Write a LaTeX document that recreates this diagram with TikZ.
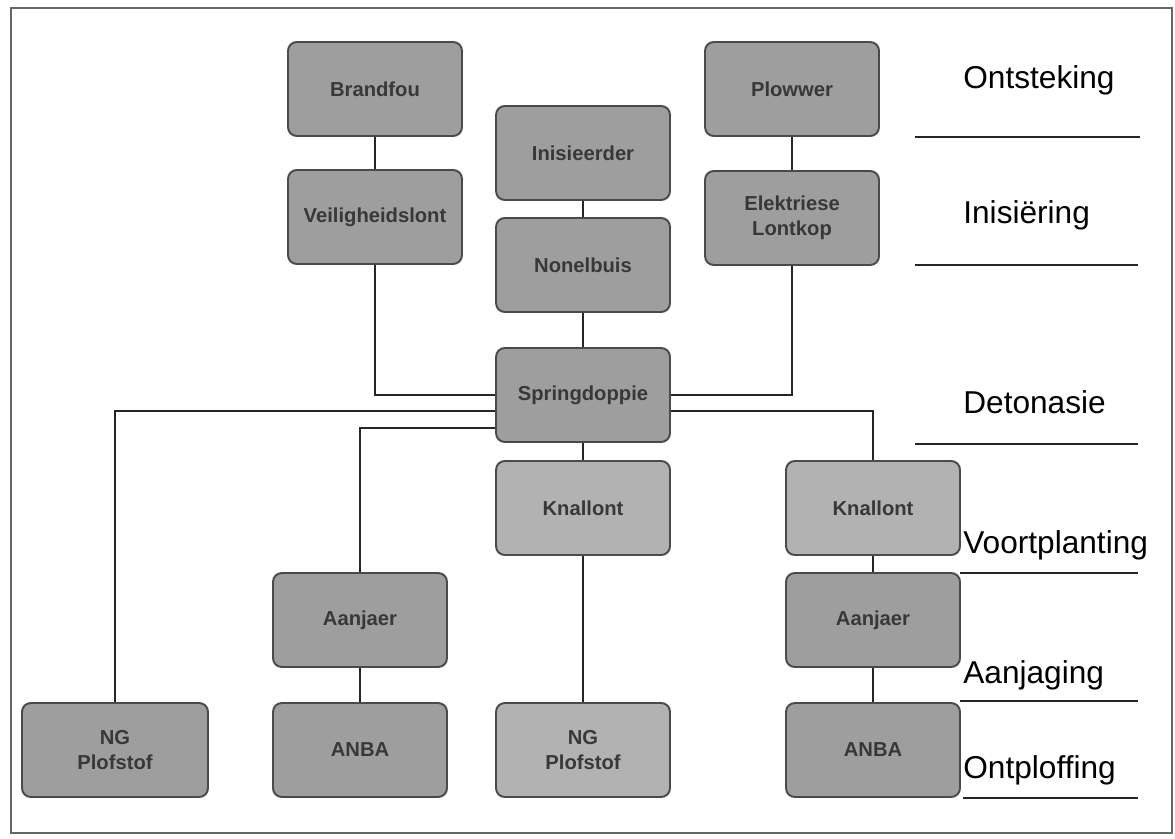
\documentclass[tikz,border=0pt]{standalone}
\usepackage{fontspec}
\setmainfont{Liberation Sans}
\definecolor{boxgray}{HTML}{9E9E9E}
\definecolor{boxlight}{HTML}{B2B2B2}
\definecolor{boxedge}{HTML}{4A4A4A}
\definecolor{boxtext}{HTML}{383838}
\begin{document}
\begin{tikzpicture}[x=0.02cm,y=-0.02cm,
  stage/.style={draw=boxedge,line width=1.1pt,fill=boxgray,rounded corners=5pt,minimum width=3.48cm,minimum height=1.88cm,align=center,text=boxtext,font=\fontsize{11.5}{14}\selectfont\bfseries},
  light/.style={stage,fill=boxlight},
  phase/.style={anchor=west,inner sep=0pt,font=\fontsize{18}{20}\selectfont},
  link/.style={line width=0.9pt,black!85}]
\useasboundingbox (0,0) rectangle (1175,838);
\draw[line width=1.3pt,black!60] (11,8) rectangle (1172,833);
\node[stage] (brand) at (375,89) {Brandfou};
\node[stage] (veilig) at (375,217) {Veiligheidslont};
\node[stage] (inis) at (583,153) {Inisieerder};
\node[stage] (nonel) at (583,265) {Nonelbuis};
\node[stage] (plow) at (792,89) {Plowwer};
\node[stage] (elek) at (792,218) {Elektriese\\Lontkop};
\node[stage] (spring) at (583,395) {Springdoppie};
\node[light] (knalA) at (583,508) {Knallont};
\node[light] (knalB) at (873,508) {Knallont};
\node[stage] (aanA) at (360,620) {Aanjaer};
\node[stage] (aanB) at (873,620) {Aanjaer};
\node[stage,minimum width=3.72cm] (ngA) at (115,750) {NG\\Plofstof};
\node[stage] (anbaA) at (360,750) {ANBA};
\node[light] (ngB) at (583,750) {NG\\Plofstof};
\node[stage] (anbaB) at (873,750) {ANBA};
\draw[link] (brand) -- (veilig);
\draw[link] (veilig.south) |- (spring.west);
\draw[link] (inis) -- (nonel);
\draw[link] (nonel) -- (spring);
\draw[link] (plow) -- (elek);
\draw[link] (elek.south) |- (spring.east);
\draw[link] ([yshift=-0.32cm]spring.west) -| (ngA.north);
\draw[link] ([yshift=-0.66cm]spring.west) -| (aanA.north);
\draw[link] ([yshift=-0.32cm]spring.east) -| (knalB.north);
\draw[link] (spring) -- (knalA);
\draw[link] (knalA) -- (ngB);
\draw[link] (aanA) -- (anbaA);
\draw[link] (knalB) -- (aanB);
\draw[link] (aanB) -- (anbaB);
\node[phase] (ont) at (963,80) {Ontsteking};
\node[phase] (inisi) at (963,215) {Inisiëring};
\node[phase] (deto) at (963,402) {Detonasie};
\node[phase] (voort) at (963,545) {Voortplanting};
\node[phase] (aanj) at (963,675) {Aanjaging};
\node[phase] (ontpl) at (963,770) {Ontploffing};
\draw[link] (915,137) -- (1140,137);
\draw[link] (915,265) -- (1138,265);
\draw[link] (915,444) -- (1138,444);
\draw[link] (960,573) -- (1138,573);
\draw[link] (960,701) -- (1138,701);
\draw[link] (963,798) -- (1138,798);
\end{tikzpicture}
\end{document}
